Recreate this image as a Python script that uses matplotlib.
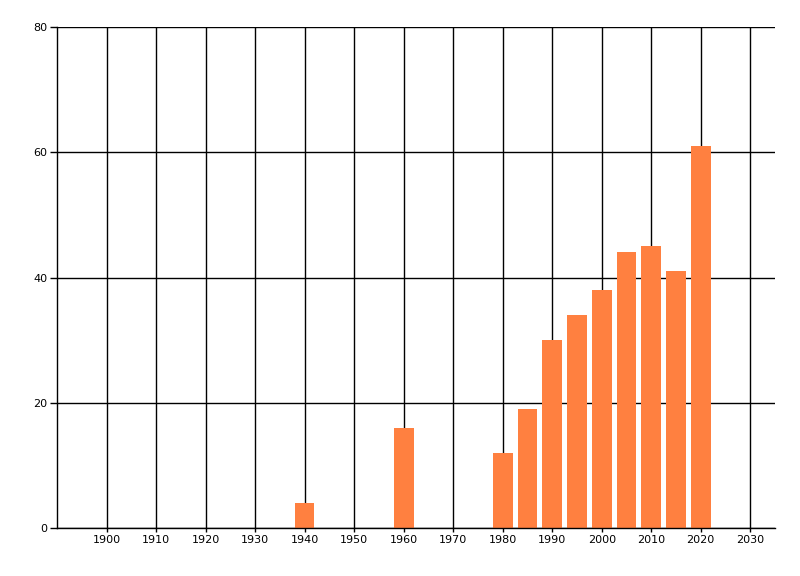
import matplotlib
matplotlib.use('Agg')
import matplotlib.pyplot as plt

years  = [1940, 1960, 1980, 1985, 1990, 1995, 2000, 2005, 2010, 2015, 2020]
counts = [4,    16,   12,   19,   30,   34,   38,   44,   45,   41,   61]
xticks = list(range(1900, 2031, 10))
yticks = [0, 20, 40, 60, 80]

fig = plt.figure(figsize=(8, 5.76), dpi=100)
ax = fig.add_axes([57/800, 1 - 528/576, 718/800, 501/576])

ax.bar(years, counts, width=4, color='#FF8040', zorder=3)

ax.set_xlim(1890, 2035)
ax.set_ylim(0, 80)
ax.set_xticks(xticks)
ax.set_yticks(yticks)
ax.grid(True, color='black', linewidth=1, zorder=1)
ax.set_axisbelow(True)

for side in ['top', 'right']:
    ax.spines[side].set_visible(False)
for side in ['left', 'bottom']:
    ax.spines[side].set_linewidth(1)
    ax.spines[side].set_zorder(4)

ax.tick_params(axis='both', labelsize=8, width=1, pad=2)
ax.tick_params(axis='y', length=5)
ax.tick_params(axis='x', length=3)
plt.savefig('out.png', dpi=100)
